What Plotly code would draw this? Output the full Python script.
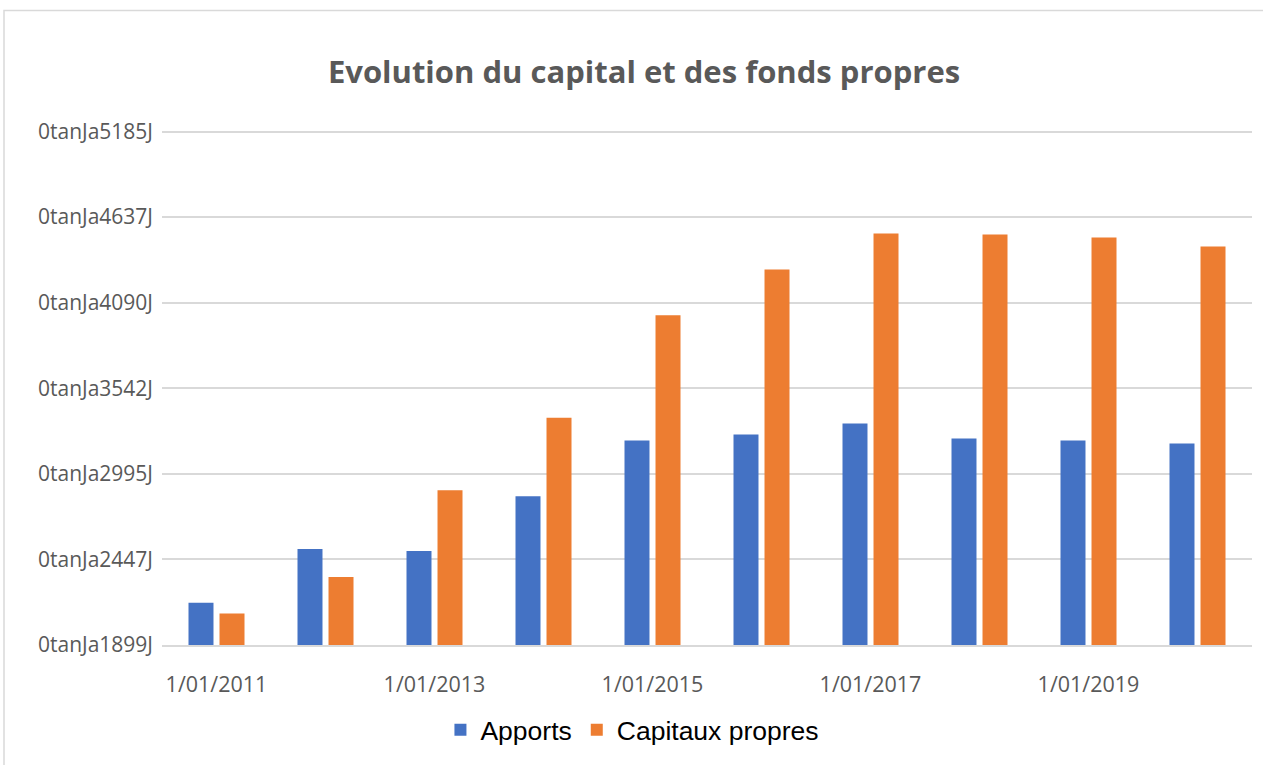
import plotly.graph_objects as go

categories = ["1/01/2011", "1/01/2012", "1/01/2013", "1/01/2014", "1/01/2015",
              "1/01/2016", "1/01/2017", "1/01/2018", "1/01/2019", "1/01/2020"]
apports = [2170, 2514, 2501, 2851, 3208, 3246, 3316, 3220, 3208, 3189]
capitaux_propres = [2100, 2335, 2889, 3354, 4010, 4303, 4532, 4526, 4507, 4449]

y_tick_values = [1899, 2446.67, 2994.33, 3542, 4089.67, 4637.33, 5185]
y_tick_labels = ["0tanJa1899J", "0tanJa2447J", "0tanJa2995J", "0tanJa3542J",
                 "0tanJa4090J", "0tanJa4637J", "0tanJa5185J"]
x_label_categories = categories[::2]
x_boundary_ticks = [i - 0.5 for i in range(0, len(categories) + 1, 2)]

BLUE = "#4472C4"
ORANGE = "#ED7D31"
GRID = "#D9D9D9"
TEXT = "#595959"

fig = go.Figure()
fig.add_trace(go.Bar(x=categories, y=apports, name="Apports",
                     marker=dict(color=BLUE, line=dict(width=0))))
fig.add_trace(go.Bar(x=categories, y=capitaux_propres, name="Capitaux propres",
                     marker=dict(color=ORANGE, line=dict(width=0))))

plot_h = 765 - 130 - 118
fig.update_layout(
    width=1263, height=765,
    margin=dict(l=162, r=11, t=130, b=118),
    paper_bgcolor="white", plot_bgcolor="white",
    barmode="group", bargap=0.431, bargroupgap=0.194,
    title=dict(text="<b>Evolution du capital et des fonds propres</b>",
               font=dict(family="Open Sans", size=31, color=TEXT),
               x=644 / 1263, xref="container", xanchor="center",
               y=1 - 72 / 765, yref="container", yanchor="middle"),
    font=dict(family="Open Sans", color=TEXT),
    legend=dict(orientation="h", x=0.4316, xanchor="center", y=-0.165, yanchor="middle",
                font=dict(family="Liberation Sans", size=26.5, color="#000000"),
                itemwidth=30, traceorder="normal"),
    xaxis=dict(type="category", range=[-0.5, len(categories) - 0.5],
               tickvals=x_label_categories, ticktext=x_label_categories,
               ticks="", showgrid=False, showline=True, linecolor=GRID, linewidth=1.5,
               tickfont=dict(family="Open Sans", size=21.5, color=TEXT),
               ticklabelstandoff=19, zeroline=False),
    xaxis2=dict(overlaying="x", anchor="y", side="bottom",
                range=[-0.5, len(categories) - 0.5],
                tickmode="array", tickvals=x_boundary_ticks,
                ticks="outside", ticklen=10, tickwidth=1.5, tickcolor=GRID,
                showticklabels=False, showgrid=False, showline=False, zeroline=False),
    yaxis=dict(range=[y_tick_values[0], y_tick_values[-1] + 10],
               tickvals=y_tick_values, ticktext=y_tick_labels,
               showgrid=True, gridcolor=GRID, gridwidth=1.5,
               showline=False, zeroline=False, ticks="",
               ticklabelstandoff=8,
               tickfont=dict(family="Open Sans", size=21, color=TEXT)),
    shapes=[dict(type="rect", xref="paper", yref="paper",
                 x0=(4 - 162) / 1090, x1=1.2, y0=-0.5,
                 y1=(765 - 118 - 10) / plot_h,
                 line=dict(color=GRID, width=1.5), fillcolor="rgba(0,0,0,0)",
                 layer="below")],
)

fig.write_html("out.html", config={"displayModeBar": False},
               post_script="document.body.style.margin='0px';")
